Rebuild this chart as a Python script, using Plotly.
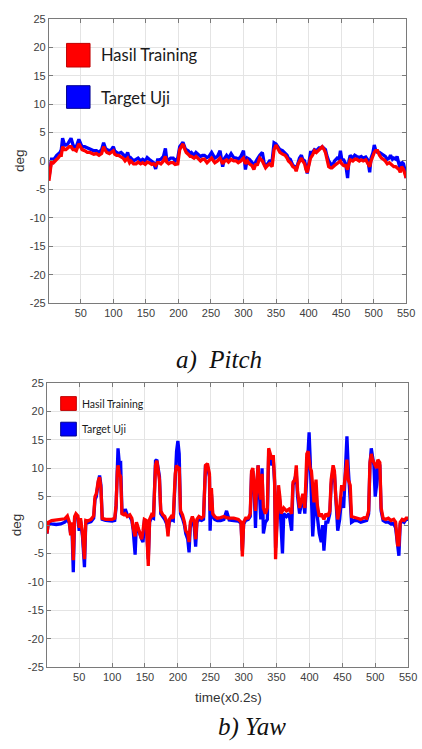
import plotly.graph_objects as go

# ---------------- data ----------------
pitch_time = [1, 3, 5, 8, 10, 13, 15, 18, 20, 22, 25, 27, 30, 32, 35, 38, 40, 43, 47, 50,
              52, 56, 60, 64, 67, 70, 74, 78, 82, 85, 88, 90, 94, 97, 100, 102, 105, 108, 112, 115,
              118, 122, 125, 127, 131, 135, 138, 142, 145, 149, 152, 155, 159, 162, 165, 168, 170, 173, 177, 180,
              182, 185, 188, 192, 195, 199, 202, 205, 207, 210, 212, 215, 218, 220, 224, 227, 230, 234, 237, 240,
              244, 247, 251, 254, 256, 260, 264, 268, 271, 274, 277, 281, 285, 289, 292, 296, 300, 303, 306, 309,
              313, 316, 319, 321, 325, 329, 332, 334, 337, 340, 344, 347, 350, 353, 356, 360, 364, 367, 369, 372,
              376, 379, 381, 384, 386, 389, 391, 394, 396, 398, 401, 403, 406, 409, 412, 416, 419, 421, 424, 426,
              428, 431, 434, 436, 440, 444, 447, 449, 451, 454, 457, 460, 462, 464, 468, 471, 474, 478, 481, 484,
              488, 491, 494, 496, 499, 501, 503, 506, 509, 512, 515, 518, 521, 524, 526, 529, 531, 534, 536, 539,
              541, 543, 546, 548, 550]
pitch_hasil = [-3.5, -1.5, 0.0, -0.3, 0.0, 0.3, 0.5, 1.0, 1.0, 2.5, 2.0, 2.0, 2.3, 2.5, 2.5, 2.0, 2.0, 1.8, 3.0, 2.3,
               2.0, 1.8, 1.5, 1.5, 1.3, 1.2, 1.3, 1.0, 1.3, 2.5, 1.8, 1.5, 1.3, 1.5, 1.8, 1.2, 1.0, 1.0, 0.8, 0.5,
               0.0, 0.5, -0.3, 0.0, -0.5, -0.5, -0.2, -0.5, -0.3, -0.6, -0.2, -0.3, -0.6, -0.5, -0.8, -0.3, -0.3, -0.5, 0.0, 0.8,
               -0.2, -0.5, -0.3, -0.3, -0.6, -0.5, 2.0, 2.5, 3.0, 2.0, 1.5, 1.2, 0.8, 0.8, 0.5, 0.8, 0.5, 0.0, 0.3, 0.3,
               -0.3, 0.0, 0.5, 0.0, -0.3, 0.0, 0.5, -0.5, 0.0, 0.2, -0.2, 0.3, 0.0, 0.0, -0.3, 0.0, 0.5, -0.5, 0.0, -0.5,
               -0.8, -1.5, -0.5, -0.8, 0.5, 0.0, -0.8, -1.2, -0.8, -0.5, -1.0, 2.0, 2.8, 2.0, 1.5, 1.2, 1.0, 0.5, 0.0, -0.3,
               -1.0, -1.2, -1.8, -0.5, 0.0, 0.5, 0.0, -0.5, -1.5, -2.0, -0.5, 0.5, 1.0, 1.8, 1.5, 2.0, 2.3, 2.5, 2.0, 1.5,
               0.5, -1.0, -1.2, -1.2, -0.8, -0.5, -0.3, 0.0, -0.5, -0.8, -0.8, -1.5, -0.5, 0.2, 0.0, 0.3, 0.3, 0.0, 0.2, 0.0,
               0.2, -0.3, -1.0, 0.0, 1.0, 1.5, 1.8, 1.8, 1.0, 0.5, 0.3, 0.0, -0.5, -0.3, -0.5, -0.8, -1.0, -1.0, -1.2, -1.5,
               -2.0, -1.0, -1.5, -2.5, -3.0]
pitch_target = [-3.0, -1.0, 0.3, 0.3, 0.5, 1.0, 1.2, 1.5, 2.0, 4.0, 2.8, 2.8, 3.0, 3.5, 4.0, 2.8, 2.5, 2.5, 3.8, 3.0,
                2.5, 2.5, 2.3, 2.0, 2.0, 1.8, 1.8, 1.5, 2.0, 3.2, 2.2, 2.0, 1.8, 2.0, 2.5, 1.8, 1.5, 1.3, 1.5, 1.2,
                0.5, 1.5, 0.2, 0.5, 0.0, 0.2, 0.5, 0.0, 0.3, 0.0, 0.6, 0.3, 0.0, -0.3, -1.4, 0.2, 0.2, 0.3, 0.8, 2.2,
                0.3, 0.2, 0.5, 0.5, 0.0, 0.5, 2.5, 3.0, 3.3, 2.3, 2.0, 1.8, 1.3, 1.5, 1.0, 1.5, 1.2, 0.8, 1.0, 1.0,
                0.6, 0.8, 1.5, 0.8, 0.5, 0.8, 1.8, -1.0, 0.5, 1.0, 0.5, 1.3, 0.6, 0.5, 0.3, 0.8, 1.8, -1.5, 0.5, 0.3,
                -0.2, -0.8, 0.0, 0.3, 1.0, 1.5, -0.5, -1.0, -0.5, 0.0, 0.0, 3.2, 3.0, 2.5, 2.0, 1.8, 1.3, 1.0, 0.5, 0.3,
                -0.8, -1.0, -1.5, 0.0, 0.5, 1.0, 0.3, 0.0, -1.5, -2.2, 0.0, 1.5, 1.5, 2.0, 1.8, 2.3, 2.3, 2.5, 2.2, 2.0,
                1.0, 0.0, -0.5, -1.0, 0.0, 0.5, 0.3, 1.8, 0.3, 0.2, -0.5, -3.0, 0.0, 1.0, 0.5, 1.0, 0.8, 0.6, 0.8, 0.5,
                0.7, 0.2, -2.0, 0.5, 1.5, 2.8, 2.0, 1.5, 1.5, 1.3, 1.0, 0.8, 0.3, 0.5, 1.0, 0.3, 0.5, 0.3, 0.8, -0.5,
                -1.5, -0.2, -0.5, -1.5, -3.0]

yaw_time = [1, 3, 8, 15, 22, 28, 32, 35, 37, 39, 41, 43, 45, 48, 50, 52, 55, 58, 60, 63,
            68, 72, 74, 76, 79, 81, 83, 85, 90, 95, 100, 104, 106, 108, 109, 111, 113, 115, 118, 120,
            123, 127, 130, 132, 135, 137, 140, 143, 145, 147, 149, 152, 155, 157, 160, 163, 166, 168, 170, 172,
            174, 177, 180, 183, 185, 187, 190, 193, 196, 198, 200, 202, 204, 207, 210, 212, 215, 217, 219, 222,
            225, 227, 229, 232, 236, 239, 242, 245, 248, 249, 251, 253, 256, 260, 265, 270, 274, 278, 285, 292,
            296, 298, 300, 303, 307, 310, 312, 314, 316, 318, 320, 322, 324, 326, 328, 330, 333, 336, 338, 341,
            343, 345, 347, 348.5, 351, 353, 355, 357, 359, 361, 365, 369, 373, 375, 378, 380, 382, 385, 388, 390,
            393, 396, 398, 399.5, 401, 403, 405, 407, 410, 412, 415, 418, 420, 422, 425, 428, 431, 433, 436, 438,
            440, 443, 446, 449, 452, 455, 457, 459, 462, 464, 468, 473, 478, 483, 487, 490, 492, 494, 496, 498,
            500, 502, 504, 507, 509, 512, 516, 520, 524, 528, 531, 534, 536, 538, 541, 544, 547, 550]
yaw_hasil = [-1.5, 0.5, 0.8, 0.9, 1.0, 1.1, 1.6, 0.5, -1.8, 0.5, -6.2, 1.5, 2.0, 1.6, -0.5, 1.2, -1.5, -6.0, 0.8, 0.7,
             1.0, 1.6, 5.0, 5.5, 7.8, 8.4, 6.5, 1.2, 1.0, 1.0, 1.0, 1.2, 3.5, 9.5, 10.5, 9.0, 8.5, 2.0, 1.8, 2.0,
             1.5, 1.8, 1.2, -0.5, -2.0, 0.5, -0.5, -1.5, -2.5, -1.0, 1.0, 0.8, -7.2, 1.0, 1.8, 1.5, 10.5, 11.3, 9.0, 8.0,
             2.5, 1.8, 1.5, 0.5, -2.0, 1.0, 1.5, 1.2, 9.0, 10.5, 10.0, 10.2, 2.5, 1.8, 0.5, -1.0, -1.5, -3.0, 0.5, 1.5,
             0.5, -2.5, 1.0, 1.5, 1.2, 1.5, 10.5, 10.8, 9.0, 2.5, 6.5, 2.0, 1.5, 1.2, 1.3, 1.5, 1.3, 1.2, 1.2, 1.0,
             0.5, -5.5, 0.5, 1.2, 1.2, 2.0, 9.5, 10.0, 6.5, 2.5, 7.5, 10.5, 6.0, 4.5, 9.0, 3.0, 2.0, 3.0, 13.5, 12.0,
             11.5, 12.3, 8.0, -6.0, 3.0, 7.0, 5.0, 2.0, 2.5, 3.0, 2.5, 2.8, 2.0, 7.5, 8.0, 10.5, 6.0, 3.0, 4.5, 5.5,
             3.0, 12.5, 13.0, 11.0, 10.0, 9.5, 6.0, 4.0, 8.0, 3.5, 1.5, 2.0, 1.5, 1.0, 2.0, 1.5, 2.5, 8.0, 10.5, 9.5,
             5.0, 1.0, 3.0, 7.0, 6.0, 10.0, 11.5, 8.0, 7.0, 1.5, 1.3, 1.2, 1.0, 1.3, 1.2, 2.5, 11.0, 12.5, 11.5, 10.8,
             10.5, 10.0, 11.5, 11.0, 3.0, 1.2, 1.0, 1.2, 0.8, 1.0, 0.5, -3.5, -3.5, 0.5, 1.0, 0.8, 1.2, 1.2]
yaw_target = [-1.5, 0.3, 0.2, 0.1, 0.2, 0.5, 1.0, 0.3, -1.5, -0.5, -8.3, 1.2, 1.8, 1.2, -1.0, 0.8, -2.0, -7.4, 0.5, 0.4,
              0.6, 1.2, 4.5, 5.0, 7.5, 8.7, 7.0, 1.0, 0.8, 0.7, 0.7, 0.8, 3.0, 10.0, 13.5, 10.8, 10.9, 2.2, 2.0, 2.8,
              1.8, 1.5, 0.8, -0.8, -5.2, 0.2, -1.0, -1.8, -2.5, -3.0, 0.5, 0.3, -6.0, 0.5, 1.4, 1.2, 11.3, 11.5, 9.5, 8.5,
              2.0, 1.5, 1.0, 0.2, -1.0, 0.5, 1.0, 0.8, 10.0, 13.0, 14.8, 12.5, 2.0, 1.2, 0.0, -1.5, -2.5, -4.8, 0.0, 1.0,
              -0.5, -3.8, 0.5, 1.0, 0.8, 1.0, 10.5, 10.2, 8.5, -1.0, 5.5, 1.5, 1.0, 0.8, 0.8, 1.0, 2.5, 0.9, 0.8, 0.7,
              0.3, -4.5, 0.2, 0.8, 1.0, 1.5, 9.0, 9.5, 6.0, -0.5, 7.0, 10.5, 5.5, 1.0, 10.0, -1.5, 0.5, 1.0, 12.5, 11.0,
              10.5, 11.5, 7.5, -4.0, 1.5, 6.0, 4.0, -2.0, -5.0, 2.0, 1.5, 2.0, -1.0, 7.0, 8.5, 9.0, 5.0, 2.0, 4.0, 5.0,
              2.0, 10.0, 14.0, 16.3, 12.0, 4.0, -2.0, 2.0, 6.5, 1.5, -1.5, -3.0, 0.0, -4.5, 0.5, 0.5, 2.0, 7.0, 10.0, 9.0,
              4.0, -1.0, 1.0, 5.0, 3.0, 12.0, 15.6, 10.0, 4.5, 0.5, 0.8, 0.8, 0.5, 0.7, 0.8, 2.0, 10.5, 13.5, 12.0, 10.5,
              5.0, 7.0, 11.0, 10.5, 2.5, 0.8, 0.5, 0.5, 0.2, 0.3, -0.5, -3.0, -5.4, 0.2, 0.8, 0.5, 1.0, 1.0]

x_ticks = [50, 100, 150, 200, 250, 300, 350, 400, 450, 500, 550]
y_ticks = [-25, -20, -15, -10, -5, 0, 5, 10, 15, 20, 25]
x_tick_text = [str(v) for v in x_ticks]
y_tick_text = [str(v) for v in y_ticks]   # plain hyphen-minus like the reference
legend_labels = ["Hasil Training", "Target Uji"]
captions = ["a)&nbsp; Pitch", "b) Yaw"]

# ---------------- figure ----------------
W, H = 422, 749
def fx(p):
    return p / W
def fy(p):
    return 1 - p / H

RED = "#ff0000"
BLUE = "#0000ff"

fig = go.Figure()
fig.add_trace(go.Scatter(x=pitch_time, y=pitch_target, mode="lines", line=dict(color=BLUE, width=3.3),
                         xaxis="x", yaxis="y", showlegend=False))
fig.add_trace(go.Scatter(x=pitch_time, y=pitch_hasil, mode="lines", line=dict(color=RED, width=3.3),
                         xaxis="x", yaxis="y", showlegend=False))
fig.add_trace(go.Scatter(x=yaw_time, y=yaw_target, mode="lines", line=dict(color=BLUE, width=3.3),
                         xaxis="x2", yaxis="y2", showlegend=False))
fig.add_trace(go.Scatter(x=yaw_time, y=yaw_hasil, mode="lines", line=dict(color=RED, width=3.3),
                         xaxis="x2", yaxis="y2", showlegend=False))

tickfont = dict(family="Liberation Sans, Arial, sans-serif", size=11, color="#404040")
axcommon = dict(showline=True, linecolor="#7a7a7a", linewidth=1, mirror="ticks", ticks="inside",
                ticklen=4, tickcolor="#7a7a7a", showgrid=True, gridcolor="#e4e4e4", gridwidth=1,
                zeroline=False, tickfont=tickfont, ticklabeloverflow="allow")

fig.update_layout(
    width=W, height=H, margin=dict(l=0, r=0, t=0, b=0),
    paper_bgcolor="white", plot_bgcolor="white", showlegend=False,
    xaxis=dict(domain=[fx(50), fx(415)], range=[1, 550], tickvals=x_ticks, ticktext=x_tick_text,
               anchor="y", **axcommon),
    yaxis=dict(domain=[fy(302), fy(13)], range=[-25, 25], tickvals=y_ticks, ticktext=y_tick_text,
               anchor="x", **axcommon),
    xaxis2=dict(domain=[fx(48), fx(417)], range=[1, 550], tickvals=x_ticks, ticktext=x_tick_text,
                anchor="y2", **axcommon),
    yaxis2=dict(domain=[fy(672), fy(383)], range=[-25, 25], tickvals=y_ticks, ticktext=y_tick_text,
                anchor="x2", **axcommon),
)

shapes = []
annotations = []

# legend backgrounds (cover gridlines, below traces)
shapes.append(dict(type="rect", xref="paper", yref="paper", x0=fx(51), x1=fx(212), y0=fy(116), y1=fy(15),
                   fillcolor="white", line=dict(width=0), layer="between"))
shapes.append(dict(type="rect", xref="paper", yref="paper", x0=fx(49), x1=fx(155), y0=fy(447), y1=fy(386),
                   fillcolor="white", line=dict(width=0), layer="between"))

# legend patches
def patch(x0, y0, x1, y1, color, edge):
    shapes.append(dict(type="rect", xref="paper", yref="paper", x0=fx(x0), x1=fx(x1), y0=fy(y1), y1=fy(y0),
                       fillcolor=color, line=dict(color=edge, width=1), layer="above"))

patch(68, 38, 92, 62, RED, "#c00000")
patch(68, 81, 92, 104, BLUE, "#000090")
patch(62, 397, 78, 411, RED, "#c00000")
patch(62, 423, 78, 437, BLUE, "#000090")

legfont_big = dict(family="Lato, Open Sans, sans-serif", size=16.5, color="#1a1a1a")
legfont_small = dict(family="Lato, Open Sans, sans-serif", size=10.5, color="#1a1a1a")
annotations += [
    dict(text=legend_labels[0], x=fx(101), y=fy(50), xref="paper", yref="paper", xanchor="left",
         yanchor="middle", showarrow=False, font=legfont_big),
    dict(text=legend_labels[1], x=fx(101), y=fy(93), xref="paper", yref="paper", xanchor="left",
         yanchor="middle", showarrow=False, font=legfont_big),
    dict(text=legend_labels[0], x=fx(82), y=fy(404), xref="paper", yref="paper", xanchor="left",
         yanchor="middle", showarrow=False, font=legfont_small),
    dict(text=legend_labels[1], x=fx(82), y=fy(430), xref="paper", yref="paper", xanchor="left",
         yanchor="middle", showarrow=False, font=legfont_small),
]

axfont = dict(family="Liberation Sans, Arial, sans-serif", size=13.5, color="#333333")
annotations += [
    dict(text="deg", x=fx(20), y=fy(157), xref="paper", yref="paper", textangle=-90, showarrow=False,
         xanchor="center", yanchor="middle", font=axfont),
    dict(text="deg", x=fx(17), y=fy(527), xref="paper", yref="paper", textangle=-90, showarrow=False,
         xanchor="center", yanchor="middle", font=axfont),
    dict(text="time(x0.2s)", x=fx(233), y=fy(703), xref="paper", yref="paper", showarrow=False,
         xanchor="center", yanchor="middle", font=axfont),
]

capfont = dict(family="Liberation Serif, Times New Roman, serif", size=25, color="#111111")
annotations += [
    dict(text="<i>" + captions[0] + "</i>", x=fx(224), y=fy(360), xref="paper", yref="paper",
         showarrow=False, xanchor="center", yanchor="middle", font=capfont),
    dict(text="<i>" + captions[1] + "</i>", x=fx(258), y=fy(733), xref="paper", yref="paper",
         showarrow=False, xanchor="center", yanchor="middle", font=capfont),
]

fig.update_layout(shapes=shapes, annotations=annotations)
fig.write_html("out.html", config={"displayModeBar": False},
               post_script="document.body.style.margin='0';document.body.style.overflow='hidden';")
